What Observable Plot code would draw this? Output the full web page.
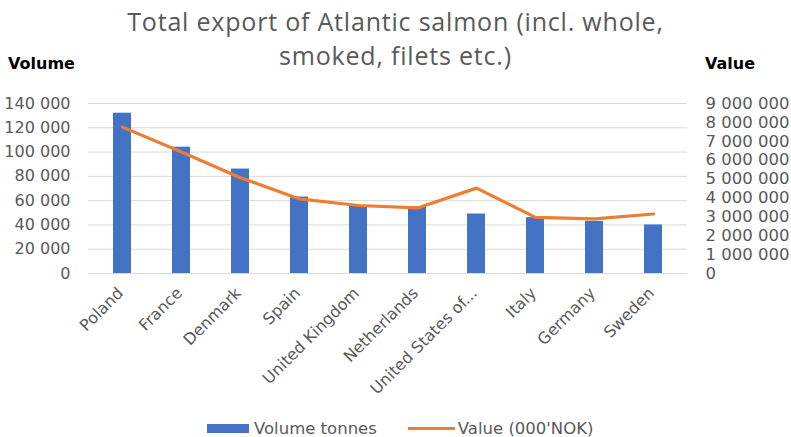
<!DOCTYPE html>
<html>
<head>
<meta charset="utf-8">
<script src="https://cdn.jsdelivr.net/npm/d3@7"></script>
<script src="https://cdn.jsdelivr.net/npm/@observablehq/plot@0.6"></script>
<style>
  body { margin: 0; background: #fff; }
  #chart { position: relative; width: 791px; height: 437px; overflow: hidden; font-family: "DejaVu Sans", sans-serif; }
  #chart svg { position: absolute; left: 0; top: 0; }
  .title { position: absolute; left: 0; width: 791px; text-align: center; font-family: "Open Sans", sans-serif;
           font-size: 25px; line-height: 34px; letter-spacing: 0.8px; color: #595959; white-space: nowrap; }
  .axis-title { position: absolute; top: 54px; font-weight: bold; font-size: 16px; color: #000; }
  .legend { position: absolute; top: 419px; left: 207px; display: flex; align-items: center; font-size: 16.5px; color: #595959; }
  .legend .item { display: flex; align-items: center; }
  .legend .swatch-bar { width: 42px; height: 9px; background: #4472c4; margin-right: 5px; }
  .legend .swatch-line { width: 47px; height: 3px; background: #ed7d31; margin-right: 3px; }
</style>
</head>
<body>
<div id="chart">
  <div class="title" style="top:4px">Total export of Atlantic salmon (incl. whole,</div>
  <div class="title" style="top:38px">smoked, filets etc.)</div>
  <div class="axis-title" style="left:8px">Volume</div>
  <div class="axis-title" style="left:705px">Value</div>
  <div class="legend">
    <div class="item" style="margin-right:31px"><div class="swatch-bar"></div><span>Volume tonnes</span></div>
    <div class="item"><div class="swatch-line"></div><span>Value (000'NOK)</span></div>
  </div>
</div>
<script>
// Top ten destinations for Norwegian Atlantic salmon exports
const countries = ["Poland", "France", "Denmark", "Spain", "United Kingdom", "Netherlands",
                   "United States of America", "Italy", "Germany", "Sweden"];
const countryLabels = ["Poland", "France", "Denmark", "Spain", "United Kingdom", "Netherlands",
                       "United States of...", "Italy", "Germany", "Sweden"];
// Volume in tonnes (left axis)
const volumeTonnes = [132000, 104000, 86000, 63000, 56000, 55000, 49000, 46000, 43000, 40000];
// Value in thousand NOK (right axis)
const valueKNOK = [7750000, 6430000, 5070000, 3950000, 3600000, 3470000, 4520000, 2970000, 2890000, 3150000];

const volumeTicks = d3.range(0, 140001, 20000);
const valueTicks = d3.range(0, 9000001, 1000000);
const volumeMax = 140000;
const valueMax = 9000000;

// The value series shares the y scale, rescaled so 9 000 000 lines up with 140 000
const toVolume = v => v * volumeMax / valueMax;
const spaced = v => d3.format(",")(Math.round(v)).replace(/,/g, " ");

const data = countries.map((c, i) => ({country: c, volume: volumeTonnes[i], value: valueKNOK[i]}));
const labelOf = new Map(countries.map((c, i) => [c, countryLabels[i]]));

const plot = Plot.plot({
  width: 791,
  height: 437,
  marginTop: 103,
  marginBottom: 164,
  marginLeft: 88,
  marginRight: 104,
  style: {fontFamily: "DejaVu Sans, sans-serif", background: "transparent", overflow: "visible"},
  x: {type: "band", domain: countries, paddingInner: 0.7, paddingOuter: 0.35},
  y: {domain: [0, volumeMax]},
  marks: [
    Plot.gridY(volumeTicks, {stroke: "#d9d9d9", strokeOpacity: 1, strokeWidth: 1}),
    Plot.barY(data, {x: "country", y: "volume", fill: "#4472c4"}),
    Plot.lineY(data, {x: "country", y: d => toVolume(d.value), stroke: "#ed7d31", strokeWidth: 3.2,
                      strokeLinejoin: "round", strokeLinecap: "round"}),
    Plot.axisY(volumeTicks, {anchor: "left", tickSize: 0, tickPadding: 18, tickFormat: spaced, label: null,
                             fill: "#595959", fontSize: 16}),
    Plot.axisY(valueTicks.map(toVolume), {anchor: "right", tickSize: 0, tickPadding: 18,
                                          tickFormat: d => spaced(d * valueMax / volumeMax), label: null,
                                          fill: "#595959", fontSize: 16.5}),
    Plot.axisX({tickSize: 0, tickRotate: -45, tickPadding: 10, dy: 7, dx: -2, tickFormat: d => labelOf.get(d), label: null,
                fill: "#595959", fontSize: 16})
  ]
});

document.getElementById("chart").prepend(plot);
</script>
</body>
</html>
